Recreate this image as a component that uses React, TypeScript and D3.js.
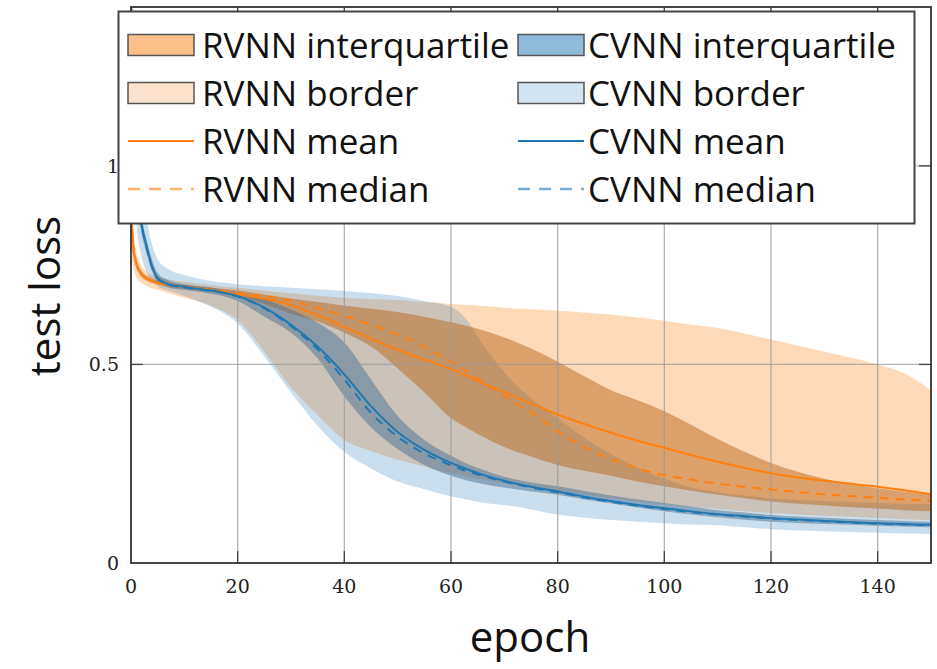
import React from "react";
import * as d3 from "d3";

// Epochs at which the test-loss statistics were sampled
const epochs = [0, 0.5, 1, 2, 3, 4, 5, 7, 10, 15, 20, 25, 30, 35, 40, 45, 50, 55, 60, 63, 66, 70, 75, 80, 85, 90, 95, 100, 105, 110, 115, 120, 130, 140, 145, 150];

// RVNN statistics
const rvnnMax = [1.0, 0.83, 0.785, 0.748, 0.732, 0.725, 0.72, 0.714, 0.708, 0.7, 0.693, 0.686, 0.679, 0.673, 0.668, 0.665, 0.662, 0.657, 0.652, 0.65, 0.647, 0.643, 0.639, 0.635, 0.631, 0.626, 0.618, 0.61, 0.6, 0.592, 0.578, 0.563, 0.532, 0.5, 0.478, 0.435];
const rvnnQ3 = [0.95, 0.81, 0.768, 0.735, 0.723, 0.716, 0.711, 0.705, 0.7, 0.693, 0.686, 0.676, 0.666, 0.657, 0.648, 0.64, 0.632, 0.62, 0.606, 0.597, 0.586, 0.568, 0.54, 0.507, 0.47, 0.435, 0.41, 0.382, 0.348, 0.312, 0.28, 0.252, 0.212, 0.188, 0.18, 0.172];
const rvnnMean = [0.9, 0.79, 0.755, 0.727, 0.716, 0.71, 0.706, 0.7, 0.695, 0.687, 0.677, 0.666, 0.65, 0.624, 0.594, 0.565, 0.537, 0.512, 0.488, 0.471, 0.452, 0.43, 0.402, 0.374, 0.35, 0.328, 0.308, 0.29, 0.272, 0.255, 0.24, 0.226, 0.207, 0.192, 0.183, 0.173];
const rvnnMedian = [0.88, 0.785, 0.752, 0.726, 0.715, 0.709, 0.705, 0.7, 0.695, 0.688, 0.68, 0.672, 0.66, 0.642, 0.622, 0.6, 0.576, 0.545, 0.507, 0.482, 0.456, 0.42, 0.38, 0.332, 0.292, 0.262, 0.238, 0.221, 0.21, 0.2, 0.192, 0.185, 0.173, 0.164, 0.16, 0.157];
const rvnnQ1 = [0.85, 0.77, 0.745, 0.72, 0.711, 0.705, 0.701, 0.696, 0.69, 0.683, 0.672, 0.652, 0.628, 0.608, 0.58, 0.545, 0.49, 0.43, 0.365, 0.34, 0.318, 0.292, 0.268, 0.247, 0.232, 0.22, 0.205, 0.193, 0.182, 0.172, 0.163, 0.155, 0.145, 0.137, 0.133, 0.13];
const rvnnMin = [0.78, 0.74, 0.72, 0.705, 0.697, 0.692, 0.688, 0.68, 0.668, 0.648, 0.612, 0.532, 0.442, 0.372, 0.31, 0.282, 0.26, 0.243, 0.226, 0.217, 0.21, 0.2, 0.19, 0.182, 0.172, 0.163, 0.155, 0.148, 0.142, 0.136, 0.13, 0.126, 0.119, 0.113, 0.11, 0.108];

// CVNN statistics
const cvnnMax = [1.6, 1.4, 1.25, 0.95, 0.86, 0.8, 0.765, 0.74, 0.725, 0.71, 0.702, 0.697, 0.693, 0.689, 0.685, 0.68, 0.672, 0.66, 0.645, 0.612, 0.55, 0.48, 0.415, 0.365, 0.315, 0.275, 0.24, 0.212, 0.19, 0.178, 0.17, 0.163, 0.156, 0.151, 0.149, 0.148];
const cvnnQ3 = [1.48, 1.22, 1.03, 0.875, 0.81, 0.762, 0.73, 0.712, 0.702, 0.694, 0.681, 0.665, 0.638, 0.605, 0.555, 0.462, 0.37, 0.31, 0.27, 0.25, 0.235, 0.217, 0.203, 0.193, 0.181, 0.17, 0.16, 0.151, 0.142, 0.133, 0.127, 0.121, 0.114, 0.108, 0.106, 0.104];
const cvnnMean = [1.42, 1.15, 0.97, 0.853, 0.793, 0.745, 0.717, 0.702, 0.695, 0.686, 0.672, 0.643, 0.6, 0.545, 0.475, 0.395, 0.33, 0.285, 0.252, 0.236, 0.222, 0.207, 0.192, 0.18, 0.167, 0.156, 0.146, 0.138, 0.13, 0.123, 0.118, 0.113, 0.106, 0.1, 0.098, 0.096];
const cvnnMedian = [1.4, 1.12, 0.96, 0.85, 0.79, 0.743, 0.716, 0.701, 0.694, 0.685, 0.671, 0.641, 0.596, 0.538, 0.462, 0.378, 0.318, 0.276, 0.246, 0.231, 0.219, 0.205, 0.19, 0.178, 0.165, 0.154, 0.144, 0.136, 0.128, 0.122, 0.117, 0.112, 0.105, 0.099, 0.097, 0.095];
const cvnnQ1 = [1.36, 1.08, 0.92, 0.83, 0.775, 0.732, 0.706, 0.694, 0.688, 0.678, 0.66, 0.62, 0.58, 0.515, 0.42, 0.342, 0.287, 0.247, 0.22, 0.208, 0.199, 0.19, 0.18, 0.172, 0.16, 0.15, 0.14, 0.13, 0.122, 0.115, 0.109, 0.104, 0.098, 0.094, 0.092, 0.09];
const cvnnMin = [1.25, 0.98, 0.86, 0.77, 0.73, 0.71, 0.697, 0.686, 0.672, 0.645, 0.603, 0.52, 0.43, 0.345, 0.28, 0.238, 0.205, 0.186, 0.168, 0.16, 0.152, 0.146, 0.135, 0.122, 0.114, 0.108, 0.104, 0.1, 0.097, 0.095, 0.09, 0.085, 0.08, 0.076, 0.074, 0.073];

// Axis ticks
const xTicks = [0, 20, 40, 60, 80, 100, 120, 140];
const yTicks = [0, 0.5, 1];
const yTickLabels = ["0", "0.5", "1"];

// Legend entries (two columns)
const legendLeft = ["RVNN interquartile", "RVNN border", "RVNN mean", "RVNN median"];
const legendRight = ["CVNN interquartile", "CVNN border", "CVNN mean", "CVNN median"];

const ORANGE = "#ff7f0e";
const BLUE = "#1f77b4";

export default function App() {
  const x = d3.scaleLinear().domain([0, 150]).range([131, 931]);
  const y = d3.scaleLinear().domain([0, 1.4]).range([563, 7]);

  const band = (lo: number[], hi: number[]) =>
    d3
      .area<number>()
      .x((d) => x(d))
      .y0((_, i) => y(lo[i]))
      .y1((_, i) => y(hi[i]))
      .curve(d3.curveMonotoneX)(epochs) || "";

  const line = (v: number[]) =>
    d3
      .line<number>()
      .x((d) => x(d))
      .y((_, i) => y(v[i]))
      .curve(d3.curveMonotoneX)(epochs) || "";

  const [x0, x1] = x.range();
  const [yb, yt] = y.range();

  const rowBase = [57.5, 105.5, 153.5, 201.5];
  const rowMid = rowBase.map((b) => b - 12.5);
  const swatchFills = [
    ["#fbbf8a", "#fde3cd"],
    ["#8fbbdb", "#d3e4f1"],
  ];

  return (
    <svg
      width={937}
      height={669}
      style={{ position: "absolute", left: 0, top: 0, background: "#fff" }}
      fontFamily="'Open Sans', sans-serif"
    >
      <defs>
        <clipPath id="plot-area">
          <rect x={x0} y={yt} width={x1 - x0} height={yb - yt} />
        </clipPath>
      </defs>

      <g clipPath="url(#plot-area)">
        <path d={band(rvnnMin, rvnnMax)} fill={ORANGE} fillOpacity={0.29} />
        <path d={band(cvnnMin, cvnnMax)} fill="rgb(55,128,185)" fillOpacity={0.26} />
        <path d={band(rvnnQ1, rvnnQ3)} fill="rgb(185,101,28)" fillOpacity={0.5} />
        <path d={band(cvnnQ1, cvnnQ3)} fill="rgb(72,112,145)" fillOpacity={0.5} />
      </g>

      {/* grid */}
      <g stroke="#9a9a9a" strokeOpacity={0.75} strokeWidth={1.3}>
        {xTicks.filter((t) => t > 0).map((t) => (
          <line key={"gx" + t} x1={x(t)} x2={x(t)} y1={yb} y2={yt} />
        ))}
        {yTicks.filter((t) => t > 0).map((t) => (
          <line key={"gy" + t} x1={x0} x2={x1} y1={y(t)} y2={y(t)} />
        ))}
      </g>

      <g clipPath="url(#plot-area)" fill="none" strokeWidth={2}>
        <path d={line(rvnnMean)} stroke={ORANGE} />
        <path d={line(rvnnMedian)} stroke={ORANGE} strokeDasharray="9,7" />
        <path d={line(cvnnMean)} stroke={BLUE} />
        <path d={line(cvnnMedian)} stroke={BLUE} strokeDasharray="9,7" />
      </g>

      {/* ticks */}
      <g stroke="#444" strokeWidth={1.3}>
        {xTicks.filter((t) => t > 0).map((t) => (
          <g key={"tx" + t}>
            <line x1={x(t)} x2={x(t)} y1={yb} y2={yb - 12} />
            <line x1={x(t)} x2={x(t)} y1={yt} y2={yt + 12} />
          </g>
        ))}
        {yTicks.filter((t) => t > 0).map((t) => (
          <g key={"ty" + t}>
            <line x1={x0} x2={x0 + 12} y1={y(t)} y2={y(t)} />
            <line x1={x1} x2={x1 - 12} y1={y(t)} y2={y(t)} />
          </g>
        ))}
      </g>

      {/* frame */}
      <rect x={x0} y={yt} width={x1 - x0} height={yb - yt} fill="none" stroke="#333" strokeWidth={1.8} />

      {/* tick labels */}
      <g fontFamily="'DejaVu Serif', serif" fontSize={19} fill="#222">
        {xTicks.map((t) => (
          <text key={"lx" + t} x={x(t)} y={yb + 30} textAnchor="middle">
            {t}
          </text>
        ))}
        {yTicks.map((t, i) => (
          <text key={"ly" + t} x={x0 - 12} y={y(t) + 7} textAnchor="end">
            {yTickLabels[i]}
          </text>
        ))}
      </g>

      {/* axis titles */}
      <text x={530} y={652} textAnchor="middle" fontSize={42} fill="#111">
        epoch
      </text>
      <text
        transform="translate(60,296) rotate(-90)"
        textAnchor="middle"
        fontSize={42}
        fill="#111"
      >
        test loss
      </text>

      {/* legend */}
      <rect x={118.5} y={11.5} width={796} height={212} fill="#fff" stroke="#444" strokeWidth={2} />
      {[legendLeft, legendRight].map((col, c) => {
        const sx = c === 0 ? 128 : 518;
        const tx = c === 0 ? 202 : 588;
        const color = c === 0 ? ORANGE : BLUE;
        return (
          <g key={"leg" + c}>
            {[0, 1].map((r) => (
              <rect
                key={"sw" + r}
                x={sx}
                y={rowMid[r] - 10.5}
                width={66}
                height={21}
                fill={swatchFills[c][r]}
                stroke="#555"
                strokeWidth={1.5}
              />
            ))}
            <line x1={sx} x2={sx + 66} y1={rowMid[2]} y2={rowMid[2]} stroke={color} strokeWidth={2} />
            <line
              x1={sx}
              x2={sx + 66}
              y1={rowMid[3]}
              y2={rowMid[3]}
              stroke={color}
              strokeOpacity={0.6}
              strokeWidth={2.5}
              strokeDasharray="12,9"
            />
            {col.map((label, r) => (
              <text key={label} x={tx} y={rowBase[r]} fontSize={35} fill="#111">
                {label}
              </text>
            ))}
          </g>
        );
      })}
    </svg>
  );
}
